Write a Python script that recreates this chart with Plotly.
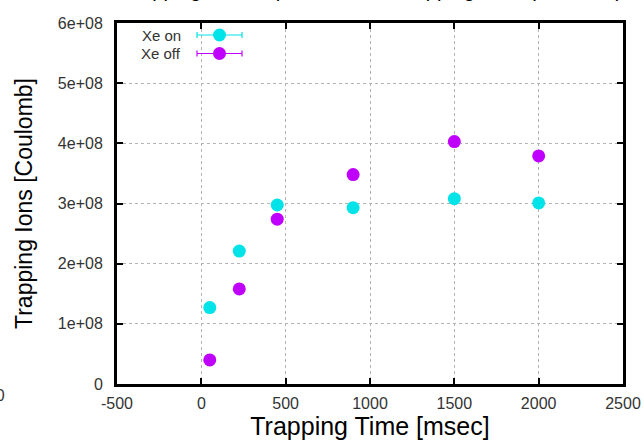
import plotly.graph_objects as go

# ---- data ----
trap_time = [50, 225, 450, 900, 1500, 2000]
ions_xe_on = [1.27e8, 2.21e8, 2.975e8, 2.93e8, 3.08e8, 3.01e8]
ions_xe_off = [0.40e8, 1.58e8, 2.74e8, 3.48e8, 4.03e8, 3.79e8]
series_names = ["Xe on", "Xe off"]
y_tick_vals = [0, 1e8, 2e8, 3e8, 4e8, 5e8, 6e8]
y_tick_labels = ["0", "1e+08", "2e+08", "3e+08", "4e+08", "5e+08", "6e+08"]
x_tick_vals = [-500, 0, 500, 1000, 1500, 2000, 2500]
x_tick_labels = ["-500", "0", "500", "1000", "1500", "2000", "2500"]

CYAN = "#00e3e8"
PURPLE = "#c000ff"
FONT = "Liberation Sans, Arial, sans-serif"
TXT = "#333333"

W, H = 644, 441
L, R, T, B = 117, 21, 23, 57
PW, PH = W - L - R, H - T - B


def px(xp):
    return (xp - L) / PW


def py(yp):
    return (H - B - yp) / PH


fig = go.Figure()
for name, ys, col in [(series_names[0], ions_xe_on, CYAN), (series_names[1], ions_xe_off, PURPLE)]:
    fig.add_trace(go.Scatter(
        x=trap_time, y=ys, mode="markers", name=name,
        marker=dict(size=13, color=col, line=dict(width=0)),
        showlegend=False, cliponaxis=False,
    ))

axis_common = dict(
    showline=True, linecolor="black", linewidth=3, mirror="allticks",
    ticks="inside", ticklen=6, tickwidth=2, tickcolor="black",
    showgrid=True, gridcolor="#b4b4b4", griddash="dot", gridwidth=1,
    zeroline=False, tickfont=dict(family=FONT, size=16, color=TXT),
    automargin=False,
)

fig.update_xaxes(range=[-500, 2500], tickvals=x_tick_vals, ticktext=x_tick_labels,
                 ticklabelstandoff=3,
                 title=dict(text="Trapping Time [msec]", font=dict(family=FONT, size=25, color="black"),
                            standoff=5),
                 **axis_common)
fig.update_yaxes(range=[0, 6e8], tickvals=y_tick_vals, ticktext=y_tick_labels,
                 ticklabelstandoff=8,
                 title=dict(text="Trapping Ions [Coulomb]", font=dict(family=FONT, size=23, color="black"),
                            standoff=19),
                 **axis_common)

# legend drawn manually
shapes = []
annotations = []
for i, (name, col) in enumerate([(series_names[0], CYAN), (series_names[1], PURPLE)]):
    yy = 35 + i * 18.5
    shapes.append(dict(type="line", xref="paper", yref="paper", x0=px(197), x1=px(242), y0=py(yy), y1=py(yy),
                       line=dict(color=col, width=1.2)))
    for xe in (197, 242):
        shapes.append(dict(type="line", xref="paper", yref="paper", x0=px(xe), x1=px(xe),
                           y0=py(yy - 3), y1=py(yy + 3), line=dict(color=col, width=1.2)))
    shapes.append(dict(type="circle", xref="paper", yref="paper", xsizemode="pixel", ysizemode="pixel",
                       xanchor=px(219.5), yanchor=py(yy), x0=-6.5, x1=6.5, y0=-6.5, y1=6.5,
                       fillcolor=col, line=dict(width=0)))
    annotations.append(dict(text=name, xref="paper", yref="paper", x=px(183), y=py(yy),
                            xanchor="right", yanchor="middle", showarrow=False,
                            font=dict(family=FONT, size=15, color=TXT)))

# cropped title at top
annotations.append(dict(text="Trapping Ions Dependence on Trapping Time (Xe on/off)",
                        xref="paper", yref="paper", x=px(372), y=py(2.5), xanchor="center", yanchor="bottom",
                        showarrow=False, font=dict(family=FONT, size=20, color="black"), borderpad=0))
# cropped neighbouring fragments
annotations.append(dict(text="Trapping Ions [Coulomb]", xref="paper", yref="paper", x=px(652), y=py(190),
                        xanchor="center", yanchor="middle", textangle=-90, showarrow=False,
                        font=dict(family=FONT, size=21, color="black")))
annotations.append(dict(text="2500", xref="paper", yref="paper", x=px(7), y=py(395),
                        xanchor="right", yanchor="middle", showarrow=False,
                        font=dict(family=FONT, size=16, color=TXT)))

fig.update_layout(
    width=W, height=H, margin=dict(l=L, r=R, t=T, b=B),
    paper_bgcolor="white", plot_bgcolor="white",
    showlegend=False, shapes=shapes, annotations=annotations,
)

fig.write_html("out.html", config={"displayModeBar": False},
               post_script="document.body.style.margin='0';document.body.style.overflow='hidden';")
